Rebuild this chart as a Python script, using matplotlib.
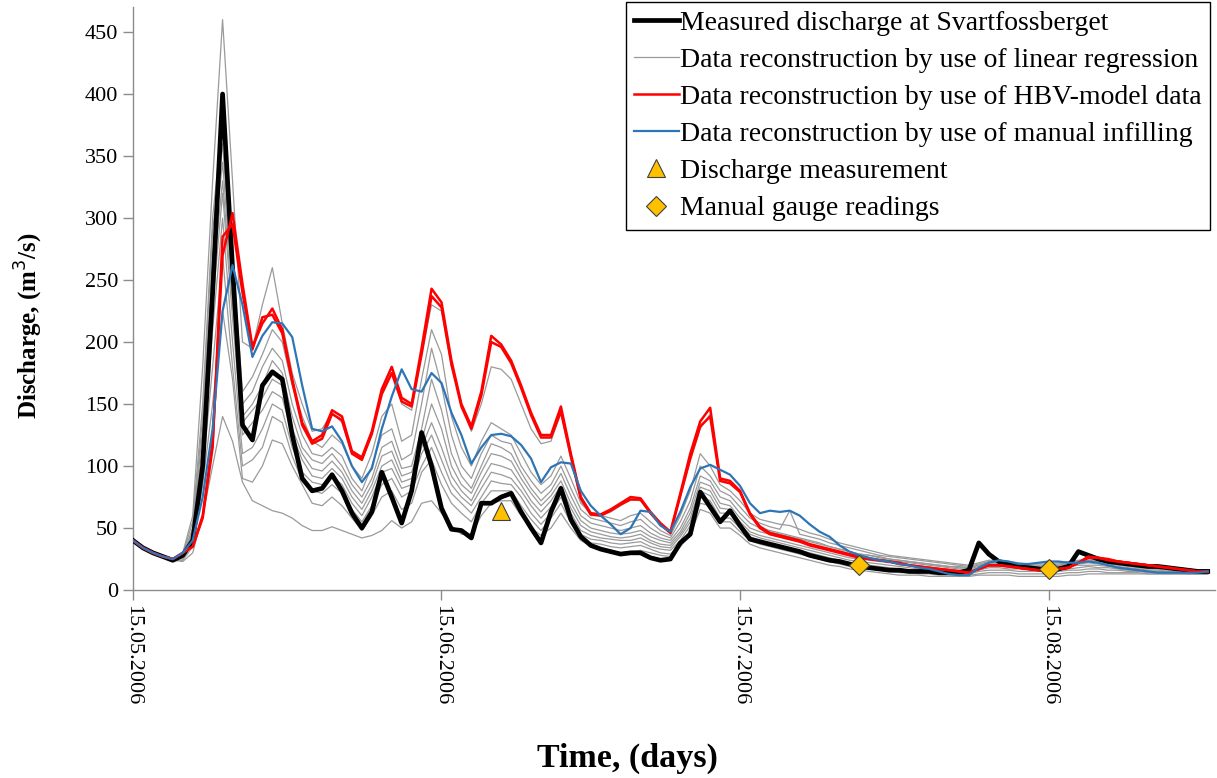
import numpy as np
import pandas as pd
import matplotlib
matplotlib.use("Agg")
import matplotlib.pyplot as plt
import matplotlib.dates as mdates

# ── data (daily discharge, m3/s) ─────────────────────────────────────
dates = pd.date_range("2006-05-15", "2006-08-31", freq="D")

measured = [
    40, 34, 30, 27, 24, 28, 40, 100, 240, 400,
    260, 133, 121, 165, 176, 170, 125, 90, 80, 82,
    93, 80, 62, 50, 63, 95, 75, 54, 80, 127,
    100, 66, 49, 48, 42, 70, 70, 75, 78, 63,
    50, 38, 63, 82, 57, 43, 36, 33, 31, 29,
    30, 30, 26, 24, 25, 38, 45, 79, 67, 55,
    64, 52, 41, 39, 37, 35, 33, 31, 28, 26,
    24, 23, 21, 19, 18, 17, 16, 16, 15, 15,
    15, 14, 14, 14, 16, 38, 29, 23, 21, 19,
    18, 17, 16, 17, 19, 31, 28, 25, 23, 22,
    21, 20, 19, 19, 18, 17, 16, 15, 15]

hbv_a = [
    40, 34, 30, 27, 25, 30, 35, 60, 120, 270,
    304, 247, 196, 215, 227, 210, 170, 135, 120, 125,
    145, 140, 112, 107, 128, 162, 180, 155, 150, 195,
    243, 232, 185, 150, 132, 160, 205, 198, 185, 165,
    143, 125, 125, 148, 110, 75, 62, 61, 65, 70,
    75, 74, 63, 54, 47, 78, 110, 136, 147, 90,
    88, 80, 62, 51, 46, 44, 42, 40, 37, 35,
    33, 31, 29, 27, 25, 24, 23, 22, 20, 19,
    18, 17, 16, 15, 14, 17, 20, 20, 19, 18,
    17, 16, 16, 17, 18, 22, 27, 26, 25, 23,
    22, 21, 20, 19, 18, 17, 16, 15, 15]

hbv_b = [
    40, 34, 30, 27, 25, 30, 35, 58, 115, 285,
    295, 240, 194, 220, 222, 207, 168, 133, 118, 122,
    142, 137, 110, 105, 126, 158, 175, 152, 148, 190,
    237, 228, 182, 148, 130, 157, 200, 196, 183, 163,
    141, 123, 123, 144, 108, 74, 61, 60, 64, 69,
    73, 73, 62, 53, 46, 76, 106, 132, 140, 88,
    86, 79, 61, 50, 45, 43, 41, 39, 36, 34,
    32, 30, 28, 26, 25, 24, 23, 21, 20, 19,
    18, 17, 16, 15, 14, 17, 20, 20, 19, 18,
    17, 16, 16, 17, 18, 22, 26, 26, 24, 23,
    22, 21, 20, 19, 18, 17, 16, 15, 15]

manual = [
    40, 34, 30, 27, 25, 30, 40, 75, 130, 225,
    262, 230, 188, 205, 216, 215, 204, 165, 130, 128,
    132, 120, 100, 87, 98, 130, 156, 178, 162, 160,
    175, 167, 143, 125, 102, 115, 125, 126, 124, 117,
    106, 87, 99, 103, 102, 80, 68, 60, 53, 45,
    50, 64, 63, 52, 47, 63, 83, 98, 101, 97,
    93, 84, 70, 62, 64, 63, 64, 60, 53, 47,
    43, 36, 31, 28, 26, 24, 23, 21, 20, 18,
    17, 15, 13, 12, 12, 18, 22, 24, 23, 21,
    21, 22, 23, 23, 22, 22, 23, 22, 20, 18,
    17, 16, 15, 14, 14, 14, 14, 14, 15]

regression = [
    [40, 34, 30, 27, 25, 30, 60, 180, 330, 460,
     330, 200, 195, 230, 260, 215, 175, 150, 128, 130,
     143, 135, 110, 105, 125, 160, 175, 150, 145, 190,
     230, 225, 180, 150, 128, 150, 180, 178, 170, 150,
     130, 118, 120, 143, 105, 72, 60, 60, 63, 68,
     73, 72, 62, 53, 46, 75, 105, 130, 142, 88,
     86, 80, 62, 52, 47, 45, 43, 41, 39, 37,
     35, 33, 31, 29, 28, 27, 25, 24, 23, 22,
     21, 20, 19, 18, 18, 20, 22, 22, 21, 20,
     19, 19, 19, 20, 21, 22, 24, 23, 22, 21,
     20, 20, 19, 18, 18, 17, 17, 16, 16],
    [40, 34, 30, 27, 25, 29, 55, 150, 300, 380,
     270, 160, 172, 190, 210, 200, 165, 140, 120, 115,
     125, 118, 100, 90, 110, 140, 150, 120, 125, 170,
     210, 190, 140, 115, 100, 120, 135, 130, 125, 110,
     95, 85, 92, 108, 90, 70, 62, 60, 58, 56,
     60, 62, 55, 48, 44, 60, 80, 110, 100, 85,
     80, 72, 62, 57, 55, 53, 52, 49, 46, 44,
     41, 38, 36, 34, 32, 30, 28, 27, 26, 25,
     24, 23, 22, 21, 20, 22, 24, 24, 23, 22,
     21, 21, 21, 22, 23, 24, 25, 24, 23, 22,
     21, 20, 20, 19, 18, 18, 17, 16, 16],
    [40, 34, 30, 27, 25, 28, 50, 140, 290, 360,
     250, 150, 160, 180, 195, 185, 150, 125, 110, 108,
     115, 108, 90, 80, 100, 125, 130, 105, 110, 150,
     195, 165, 125, 100, 90, 110, 125, 120, 118, 100,
     88, 78, 85, 100, 82, 65, 58, 56, 54, 52,
     55, 57, 50, 45, 42, 55, 72, 100, 92, 80,
     76, 67, 58, 54, 51, 49, 64, 45, 43, 41,
     38, 36, 34, 32, 30, 28, 27, 26, 25, 24,
     23, 22, 21, 20, 19, 21, 23, 23, 22, 21,
     20, 20, 20, 21, 22, 23, 24, 23, 22, 21,
     20, 19, 19, 18, 18, 17, 16, 16, 15],
    [40, 34, 30, 27, 25, 27, 48, 130, 270, 345,
     240, 140, 150, 165, 185, 175, 140, 115, 105, 102,
     110, 100, 85, 75, 90, 115, 120, 98, 100, 130,
     170, 145, 110, 92, 82, 100, 118, 115, 110, 95,
     82, 72, 80, 94, 76, 60, 54, 52, 50, 48,
     50, 52, 46, 42, 40, 50, 66, 92, 88, 75,
     72, 62, 54, 50, 48, 46, 44, 42, 40, 38,
     35, 33, 31, 29, 28, 26, 25, 24, 23, 22,
     21, 20, 19, 19, 18, 20, 22, 22, 21, 20,
     19, 19, 19, 20, 21, 22, 23, 22, 21, 20,
     19, 18, 18, 17, 17, 16, 16, 15, 15],
    [40, 34, 30, 27, 25, 27, 45, 120, 250, 330,
     230, 135, 145, 155, 170, 165, 130, 110, 98, 96,
     104, 95, 80, 70, 85, 108, 112, 92, 95, 120,
     150, 130, 100, 85, 78, 95, 110, 108, 104, 90,
     78, 68, 76, 88, 70, 56, 50, 48, 46, 45,
     46, 48, 43, 40, 38, 47, 62, 87, 84, 70,
     68, 58, 50, 47, 45, 43, 41, 39, 37, 35,
     33, 31, 29, 27, 26, 25, 24, 23, 22, 21,
     20, 19, 18, 17, 17, 19, 21, 21, 20, 19,
     18, 18, 18, 19, 20, 21, 22, 21, 20, 19,
     18, 17, 17, 17, 16, 16, 15, 15, 15],
    [40, 34, 30, 27, 25, 26, 42, 110, 230, 320,
     220, 125, 135, 145, 160, 155, 125, 105, 92, 90,
     98, 90, 75, 65, 80, 100, 105, 87, 90, 115,
     135, 115, 92, 80, 72, 88, 102, 100, 97, 85,
     72, 63, 72, 84, 66, 52, 47, 45, 43, 42,
     43, 45, 40, 37, 36, 45, 58, 83, 80, 66,
     65, 55, 47, 44, 42, 40, 38, 36, 34, 32,
     30, 28, 26, 25, 24, 23, 22, 21, 20, 19,
     18, 17, 17, 16, 16, 18, 19, 19, 19, 18,
     17, 17, 17, 18, 19, 20, 20, 20, 19, 18,
     17, 17, 16, 16, 15, 15, 15, 14, 14],
    [40, 34, 30, 27, 25, 26, 40, 100, 210, 300,
     200, 110, 115, 130, 150, 145, 115, 95, 87, 85,
     92, 85, 70, 60, 75, 95, 98, 82, 85, 110,
     125, 105, 85, 75, 68, 82, 95, 93, 90, 80,
     68, 58, 67, 80, 62, 48, 44, 42, 41, 40,
     40, 42, 38, 35, 34, 43, 55, 80, 76, 62,
     62, 52, 45, 42, 40, 38, 36, 34, 32, 30,
     28, 26, 24, 23, 22, 21, 20, 19, 18, 17,
     16, 16, 15, 15, 14, 16, 18, 18, 17, 17,
     16, 16, 16, 17, 17, 18, 19, 18, 18, 17,
     16, 16, 15, 15, 15, 14, 14, 14, 14],
    [40, 34, 30, 27, 25, 25, 38, 95, 180, 270,
     180, 100, 105, 115, 140, 135, 108, 88, 80, 78,
     85, 78, 65, 55, 68, 85, 90, 75, 80, 100,
     115, 95, 78, 70, 62, 75, 88, 86, 85, 75,
     62, 53, 62, 75, 58, 45, 41, 40, 38, 37,
     38, 39, 35, 33, 32, 40, 52, 76, 72, 58,
     58, 50, 43, 40, 38, 36, 34, 32, 30, 28,
     26, 24, 22, 21, 20, 19, 18, 17, 16, 15,
     15, 14, 14, 13, 13, 15, 16, 16, 16, 15,
     15, 15, 15, 15, 16, 16, 17, 17, 16, 16,
     15, 15, 14, 14, 14, 14, 13, 13, 13],
    [40, 34, 30, 27, 24, 24, 35, 85, 150, 225,
     170, 90, 87, 100, 121, 118, 100, 85, 70, 68,
     75, 68, 58, 48, 60, 75, 80, 65, 70, 95,
     105, 85, 70, 62, 55, 70, 80, 80, 80, 68,
     57, 48, 58, 70, 54, 42, 38, 37, 35, 34,
     35, 36, 33, 30, 29, 37, 48, 70, 68, 55,
     55, 47, 40, 37, 35, 33, 31, 29, 27, 25,
     23, 21, 19, 18, 17, 16, 15, 14, 14, 13,
     13, 12, 12, 12, 12, 13, 14, 14, 14, 13,
     13, 13, 13, 13, 14, 14, 15, 15, 14, 14,
     14, 14, 13, 13, 13, 13, 13, 13, 13],
    [40, 34, 30, 27, 24, 23, 30, 60, 100, 140,
     120, 87, 72, 68, 64, 62, 58, 52, 48, 48,
     51, 48, 45, 42, 44, 48, 56, 50, 55, 70,
     72, 62, 52, 45, 45, 60, 70, 72, 72, 60,
     50, 44, 50, 62, 50, 40, 36, 34, 32, 30,
     31, 32, 30, 28, 27, 35, 45, 65, 62, 50,
     50, 44, 37, 34, 32, 30, 28, 26, 24, 22,
     20, 19, 17, 16, 15, 14, 13, 12, 12, 12,
     11, 11, 11, 11, 11, 12, 12, 12, 12, 11,
     11, 11, 11, 11, 12, 12, 13, 13, 13, 13,
     13, 13, 13, 13, 13, 13, 13, 13, 13],
]

gauging_date = ["2006-06-21"]
gauging_q = [64]
gauge_dates = ["2006-07-27", "2006-08-15"]
gauge_q = [20, 17]

# ── plot ─────────────────────────────────────────────────────────────
plt.rcParams['font.family'] = ['Liberation Serif', 'DejaVu Serif']

fig = plt.figure(figsize=(12.17, 7.78), dpi=100)
ax = fig.add_axes([0.1093, 0.2416, 0.8888, 0.7491])

ax.plot(dates, measured, color='black', lw=3.4, zorder=3.5,
        label='Measured discharge at Svartfossberget')
for i, series in enumerate(regression):
    ax.plot(dates, series, color='#9a9a9a', lw=0.9, zorder=3,
            label=('Data reconstruction by use of linear regression'
                   if i == 0 else '_nolegend_'))
ax.plot(dates, hbv_a, color='#ff0000', lw=1.8, zorder=4,
        label='Data reconstruction by use of HBV-model data')
ax.plot(dates, hbv_b, color='#ff0000', lw=1.8, zorder=4)
ax.plot(dates, manual, color='#2e75b6', lw=1.6, zorder=4,
        label='Data reconstruction by use of manual infilling')
ax.plot(pd.to_datetime(gauging_date), gauging_q, ls='none', marker='^',
        ms=13, mfc='#ffc000', mec='#404040', mew=0.8, zorder=6,
        label='Discharge measurement')
ax.plot(pd.to_datetime(gauge_dates), gauge_q, ls='none', marker='D',
        ms=10, mfc='#ffc000', mec='#404040', mew=0.8, zorder=6,
        label='Manual gauge readings')

ax.set_xlim(pd.Timestamp("2006-05-15"),
            pd.Timestamp("2006-05-15") + pd.Timedelta(days=108.7))
ax.set_ylim(0, 470)
ax.set_yticks(np.arange(0, 451, 50))
ax.xaxis.set_major_locator(mdates.DayLocator(bymonthday=15))
ax.xaxis.set_major_formatter(mdates.DateFormatter('%d.%m.%Y'))

for s in ['top', 'right']:
    ax.spines[s].set_visible(False)
for s in ['left', 'bottom']:
    ax.spines[s].set_color('#8c8c8c')
    ax.spines[s].set_linewidth(1.0)
ax.tick_params(axis='both', colors='#8c8c8c', labelcolor='black',
               labelsize=16, length=7, width=1.0)
plt.setp(ax.get_xticklabels(), rotation=-90, ha='center', va='top')

ax.set_xlabel('Time, (days)', fontsize=24.5, fontweight='bold')
ax.xaxis.set_label_coords(0.457, -0.262)
ax.set_ylabel('Discharge, (m$^3$/s)', fontsize=18, fontweight='bold')
ax.yaxis.set_label_coords(-0.081, 0.453)

leg = ax.legend(loc='upper right', bbox_to_anchor=(0.9943, 0.9975),
                bbox_transform=fig.transFigure, fontsize=20,
                frameon=True, fancybox=False, framealpha=1,
                edgecolor='black', handlelength=1.6, handletextpad=0.05,
                labelspacing=0.42, borderpad=0.3, borderaxespad=0)
leg.get_frame().set_linewidth(1.0)

fig.savefig('out.png', dpi=100)
